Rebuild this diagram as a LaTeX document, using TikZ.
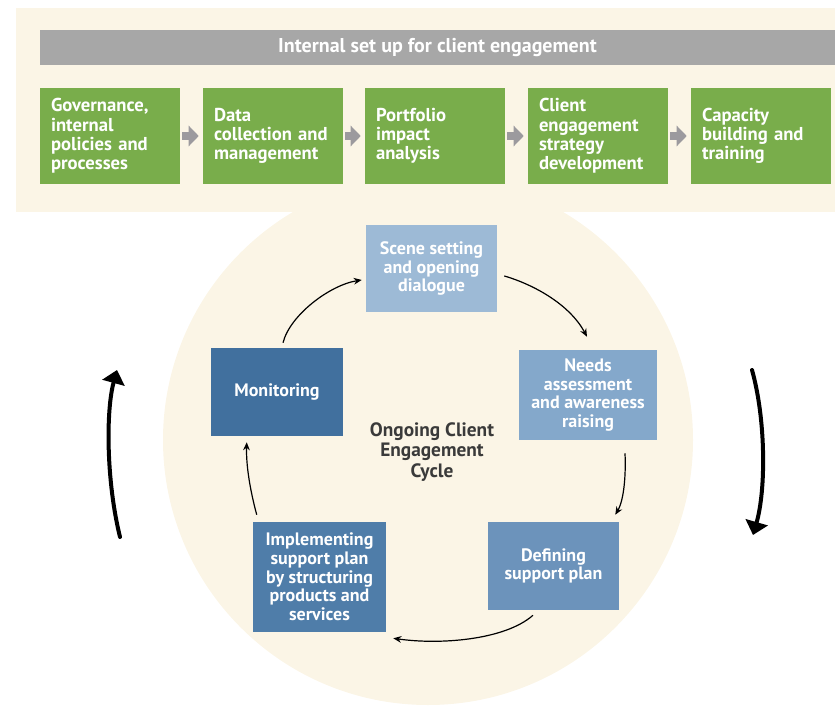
\documentclass[tikz,border=0pt]{standalone}
\usepackage{fontspec}
\setmainfont{PT Sans}
\usetikzlibrary{arrows.meta}
\definecolor{bandc}{HTML}{FBF5E6}
\definecolor{greenc}{HTML}{79AD4B}
\definecolor{barc}{HTML}{A7A7A7}
\definecolor{garc}{HTML}{9C9A9E}
\definecolor{scenec}{HTML}{9DBAD6}
\definecolor{needsc}{HTML}{84A8CB}
\definecolor{defc}{HTML}{6C93BB}
\definecolor{implc}{HTML}{4F7DA9}
\definecolor{monc}{HTML}{41709E}
\definecolor{ctext}{HTML}{3A3A3A}
\tikzset{
  lbl/.style={font=\bfseries\fontsize{13.5}{14}\selectfont},
  gbox/.style={font=\bfseries\fontsize{14}{14.4}\selectfont, fill=greenc, text=white, minimum width=105pt, minimum height=72pt,
    text width=88.5pt, inner xsep=8.25pt, inner ysep=0pt, align=left},
  cbox/.style={lbl, text=white, inner sep=0pt, align=center},
  garrow/.style={draw=garc, line width=6pt, -{Triangle[width=15pt,length=7.5pt]}},
  cyc/.style={draw=black, line width=0.9pt, -{Stealth[length=6pt,width=5pt]}},
  big/.style={draw=black, line width=3pt, line cap=round, -{Triangle[width=17pt,length=10pt]}}
}
\begin{document}
\begin{tikzpicture}[x=0.75pt,y=-0.75pt]
\useasboundingbox (0,0) rectangle (835,713);
% backgrounds
\fill[bandc] (16,8) rectangle (835,212);
\fill[bandc] (428,440) circle[radius=198.75pt];
\fill[barc] (40,30) rectangle (835,65);
\node[font=\bfseries\fontsize{15}{16}\selectfont, text=white] (title) at (437.5,47.5) {Internal set up for client engagement};
% green boxes
\node[gbox] (g1) at (110,136) {Governance,\\internal\\policies and\\processes};
\node[gbox] (g2) at (273,136) {Data\\collection and\\management};
\node[gbox] (g3) at (435,136) {Portfolio\\impact\\analysis};
\node[gbox] (g4) at (598,136) {Client\\engagement\\strategy\\development};
\node[gbox] (g5) at (761,136) {Capacity\\building and\\training};
\foreach \a/\b in {g1/g2,g2/g3,g3/g4,g4/g5}
  \draw[garrow] ([xshift=1.5pt]\a.east) -- ([xshift=-3pt]\b.west);
% cycle boxes
\node[cbox, fill=scenec, minimum width=98.25pt, minimum height=65.25pt] (scene) at (431.5,268.5) {Scene setting\\and opening\\dialogue};
\node[cbox, fill=needsc, minimum width=103.5pt, minimum height=67.5pt] (needs) at (588,395) {Needs\\assessment\\and awareness\\raising};
\node[cbox, fill=defc, minimum width=98.25pt, minimum height=66pt] (def) at (553.5,566) {Defining\\support plan};
\node[cbox, fill=implc, minimum width=99.75pt, minimum height=82.5pt] (impl) at (319.5,577) {Implementing\\support plan\\by structuring\\products and\\services};
\node[cbox, fill=monc, minimum width=99pt, minimum height=66pt] (mon) at (277,392) {Monitoring};
\node[text=ctext, align=center, font=\bfseries\fontsize{14.5}{15.3}\selectfont] (center) at (432,452) {Ongoing Client\\Engagement\\Cycle};
% cycle connectors
\draw[cyc] ([xshift=4.5pt,yshift=3.75pt]mon.north) .. controls (290,315) and (330,285) .. ([xshift=-3pt,yshift=-8.6pt]scene.west);
\draw[cyc] ([xshift=5.25pt,yshift=-5.6pt]scene.east) .. controls (535,285) and (570,305) .. ([xshift=-0.75pt,yshift=9.75pt]needs.north);
\draw[cyc] ([xshift=27.75pt,yshift=-9.75pt]needs.south) .. controls (626,475) and (624,500) .. ([xshift=-3pt,yshift=5.25pt]def.north east);
\draw[cyc] ([xshift=-15.4pt,yshift=-3.75pt]def.south) .. controls (505,640) and (440,645) .. ([xshift=5.25pt,yshift=-4.5pt]impl.south east);
\draw[cyc] ([xshift=3pt,yshift=5.25pt]impl.north west) .. controls (250,490) and (246,465) .. ([xshift=27pt,yshift=-4.5pt]mon.south west);
% big arrows
\coordinate (la1) at (120,537);
\coordinate (la2) at (117,370);
\coordinate (ra1) at (752,370);
\coordinate (ra2) at (753,535);
\draw[big] (la1) .. controls (106,480) and (106,410) .. (la2);
\draw[big] (ra1) .. controls (766,420) and (766,490) .. (ra2);
\end{tikzpicture}
\end{document}
